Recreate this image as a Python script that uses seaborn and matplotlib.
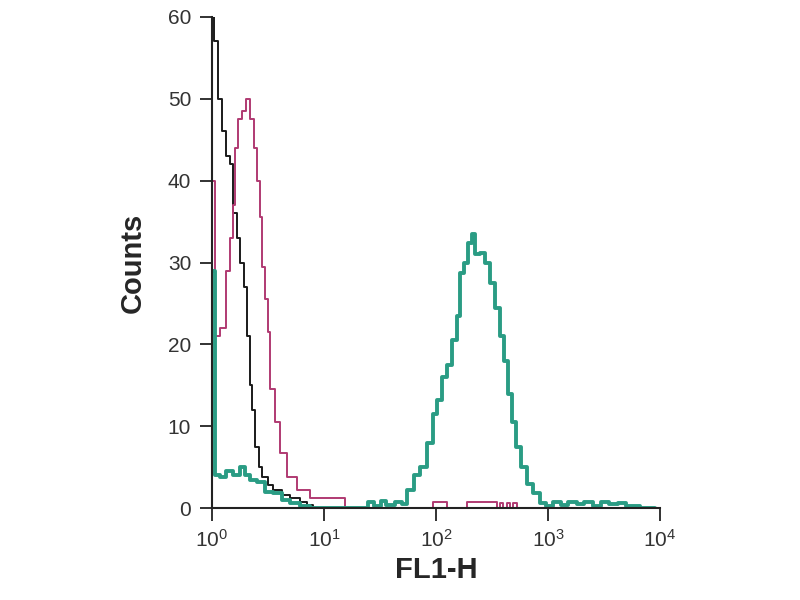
import seaborn as sns
import pandas as pd
import matplotlib.pyplot as plt

# FL1-H channel values and counts
black_x = [1.00, 1.04, 1.13, 1.23, 1.33, 1.45, 1.54, 1.67, 1.78, 1.93, 2.05, 2.18,
           2.27, 2.42, 2.63, 2.79, 3.16, 3.51, 4.22, 4.97, 6.11, 7.05, 7.98, 9000]
black_y = [60, 57, 50, 46, 43, 42, 36, 33, 30, 27, 21, 15,
           12, 7.5, 5, 3.8, 2.8, 2.2, 1.6, 1.2, 0.8, 0.4, 0, 0]

magenta_x = [1.00, 1.06, 1.18, 1.33, 1.45, 1.54, 1.60, 1.71, 1.85, 2.01, 2.18, 2.37,
             2.52, 2.68, 2.79, 2.97, 3.16, 3.30, 3.65, 4.05, 4.68, 5.74, 7.50, 14.8,
             15.4, 94, 125, 190, 350, 370, 400, 430, 460, 490, 530, 9000]
magenta_y = [40, 21, 22, 29, 33, 37, 44, 47.5, 48.5, 50, 47.5, 44,
             40, 35.5, 29.5, 25.5, 21.5, 14.5, 10.5, 6.7, 3.8, 2.2, 1.2, 1.2,
             0, 0.7, 0, 0.7, 0, 0.6, 0, 0.6, 0, 0.6, 0, 0]

teal_x = [1.00, 1.06, 1.18, 1.33, 1.54, 1.78, 1.97, 2.18, 2.52, 2.97, 3.51, 4.22,
          4.97, 6.11, 7.5, 24.7, 28, 32, 36, 43, 50, 55, 64, 72, 83, 94, 102, 113,
          125, 139, 154, 164, 178, 193, 210, 223, 246, 275, 303, 336, 373, 405,
          440, 477, 518, 574, 650, 735, 850, 950, 1100, 1300, 1500, 1800, 2100,
          2500, 3000, 3500, 4200, 5000, 6600, 9000]
teal_y = [29, 4, 3.8, 4.5, 4, 5, 4, 3.5, 3.2, 2, 1.8, 1,
          0.6, 0.3, 0, 0.8, 0.3, 0.9, 0.4, 0.8, 0.5, 2.2, 4, 5, 8, 11.5, 13.2, 16,
          17.5, 20.5, 23.5, 28.7, 30, 32.4, 33.5, 31, 31.2, 30, 27.5, 24.5, 21, 18,
          14, 10.5, 7.5, 5, 3, 1.8, 0.6, 0.3, 0.7, 0.4, 0.8, 0.5, 0.7,
          0.3, 0.8, 0.5, 0.6, 0.3, 0, 0]

sns.set_style("ticks")
plt.rcParams['font.family'] = ['Liberation Sans', 'DejaVu Sans']
plt.rcParams['mathtext.default'] = 'regular'

fig = plt.figure(figsize=(8, 6), dpi=100)
ax = fig.add_axes([0.265, 0.153, 0.56, 0.819])

series = [(black_x, black_y, '#1a1a1a', 1.4),
          (magenta_x, magenta_y, '#b03a72', 1.4),
          (teal_x, teal_y, '#2a9c84', 2.8)]
for xs, ys, col, lw in series:
    df = pd.DataFrame({'x': xs, 'y': ys})
    sns.lineplot(data=df, x='x', y='y', ax=ax, color=col, linewidth=lw,
                 drawstyle='steps-post', sort=False, estimator=None)

ax.set_xscale('log')
ax.set_xlim(1, 10000)
ax.set_ylim(0, 60)
ax.set_yticks(range(0, 61, 10))
ax.minorticks_off()
ax.set_xticks([1, 10, 100, 1000, 10000])

for s in ['top', 'right']:
    ax.spines[s].set_visible(False)
for s in ['left', 'bottom']:
    ax.spines[s].set_linewidth(1.5)
    ax.spines[s].set_color('#222222')
ax.tick_params(axis='both', direction='out', length=9, width=1.3,
               colors='#222222', labelsize=15, labelcolor='#333333', pad=6)

ax.set_xlabel('FL1-H', fontsize=21, fontweight='bold', labelpad=4)
ax.set_ylabel('Counts', fontsize=21, fontweight='bold', labelpad=15)

fig.savefig('out.png', dpi=100)
